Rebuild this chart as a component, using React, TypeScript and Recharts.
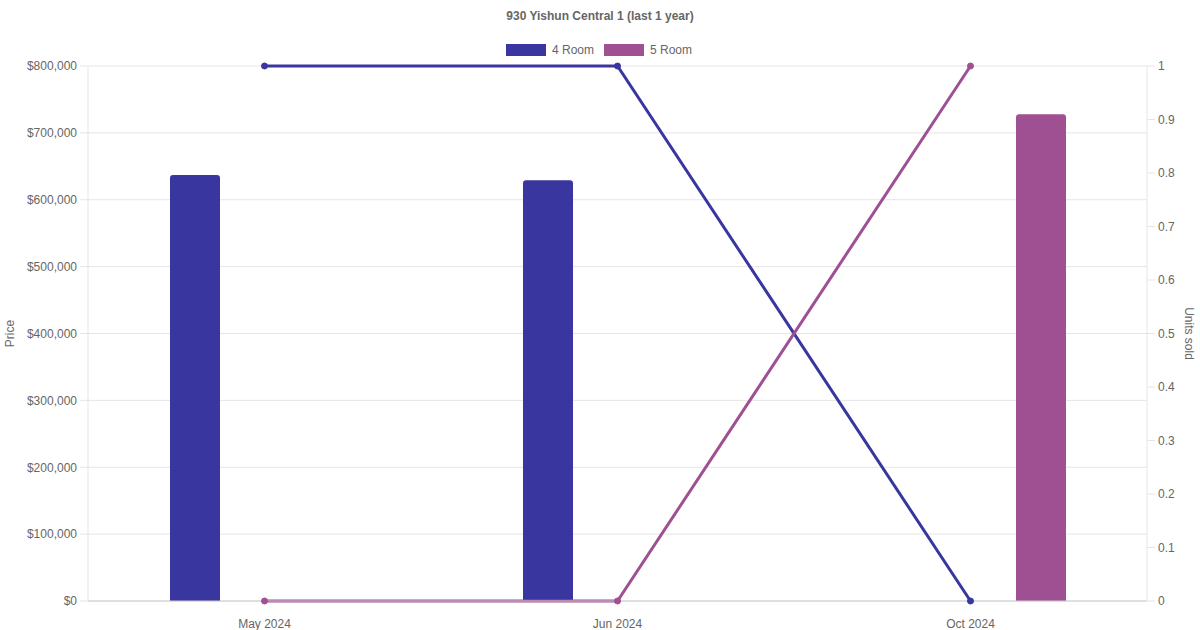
import React from 'react';
import { ComposedChart, Bar, Line, XAxis, YAxis, CartesianGrid, Label } from 'recharts';

const months = ['May 2024', 'Jun 2024', 'Oct 2024'];
const price4Room = [637000, 629000, null];
const price5Room = [null, null, 728000];
const units4Room = [1, 1, 0];
const units5Room = [0, 0, 1];
const priceTicks = [0, 100000, 200000, 300000, 400000, 500000, 600000, 700000, 800000];
const unitTicks = [0, 0.1, 0.2, 0.3, 0.4, 0.5, 0.6, 0.7, 0.8, 0.9, 1];

const COLOR_4 = '#3a36a0';
const COLOR_5 = '#9f5093';
const FONT = '"Liberation Sans", Arial, Helvetica, sans-serif';

const data = months.map((m, i) => ({
  month: m,
  p4: price4Room[i],
  p5: price5Room[i],
  u4: units4Room[i],
  u5: units5Room[i],
}));

const fmtPrice = (v: number) => '$' + v.toLocaleString('en-US');

export default function App() {
  const tick = { fill: '#666', fontSize: 12, fontFamily: FONT };
  return (
    <div style={{ position: 'relative', width: 1200, height: 630, fontFamily: FONT, background: '#fff' }}>
      <style>{`body{margin:0}`}</style>
      <div style={{ position: 'absolute', top: 9, left: 0, width: 1200, textAlign: 'center', fontSize: 12, fontWeight: 'bold', color: '#666' }}>
        930 Yishun Central 1 (last 1 year)
      </div>
      <div style={{ position: 'absolute', top: 43, left: -1, width: 1200, display: 'flex', justifyContent: 'center', fontSize: 12, color: '#666' }}>
        <div style={{ display: 'flex', alignItems: 'center', marginRight: 10 }}>
          <span style={{ display: 'inline-block', width: 40, height: 12, background: COLOR_4, marginRight: 6 }} />
          4 Room
        </div>
        <div style={{ display: 'flex', alignItems: 'center' }}>
          <span style={{ display: 'inline-block', width: 40, height: 12, background: COLOR_5, marginRight: 6 }} />
          5 Room
        </div>
      </div>
      <ComposedChart
        width={1200}
        height={630}
        data={data}
        margin={{ top: 66, right: 0, bottom: 0, left: 0 }}
        barSize={50}
        barGap={90}
      >
        <CartesianGrid yAxisId="left" vertical={false} stroke="#e5e5e5" />
        <XAxis
          dataKey="month"
          height={29}
          tickLine={false}
          tickMargin={12}
          axisLine={{ stroke: '#ccc' }}
          tick={tick}
        />
        <YAxis
          yAxisId="left"
          width={88}
          domain={[0, 800000]}
          ticks={priceTicks}
          tickFormatter={fmtPrice}
          tickSize={8}
          tickMargin={3}
          tickLine={{ stroke: '#e5e5e5' }}
          axisLine={{ stroke: '#e5e5e5' }}
          tick={tick}
        >
          <Label value="Price" angle={-90} position="insideLeft" offset={5} dx={5} style={{ fill: '#666', fontSize: 12, fontFamily: FONT, textAnchor: 'middle' }} />
        </YAxis>
        <YAxis
          yAxisId="right"
          orientation="right"
          width={53}
          domain={[0, 1]}
          ticks={unitTicks}
          tickSize={8}
          tickMargin={3}
          tickLine={{ stroke: '#e5e5e5' }}
          axisLine={{ stroke: '#e5e5e5' }}
          tick={tick}
        >
          <Label value="Units sold" angle={90} position="insideRight" offset={5} dx={-6} style={{ fill: '#666', fontSize: 12, fontFamily: FONT, textAnchor: 'middle' }} />
        </YAxis>
        <Bar yAxisId="left" dataKey="p4" name="4 Room" fill={COLOR_4} radius={[3, 3, 0, 0]} isAnimationActive={false} />
        <Bar yAxisId="left" dataKey="p5" name="5 Room" fill={COLOR_5} radius={[3, 3, 0, 0]} isAnimationActive={false} />
        <Line yAxisId="right" dataKey="u4" name="4 Room" stroke={COLOR_4} strokeWidth={3} dot={{ r: 3, fill: COLOR_4, stroke: COLOR_4, strokeWidth: 1 }} isAnimationActive={false} type="linear" />
        <Line yAxisId="right" dataKey="u5" name="5 Room" stroke={COLOR_5} strokeWidth={3} dot={{ r: 3, fill: COLOR_5, stroke: COLOR_5, strokeWidth: 1 }} isAnimationActive={false} type="linear" />
      </ComposedChart>
    </div>
  );
}
